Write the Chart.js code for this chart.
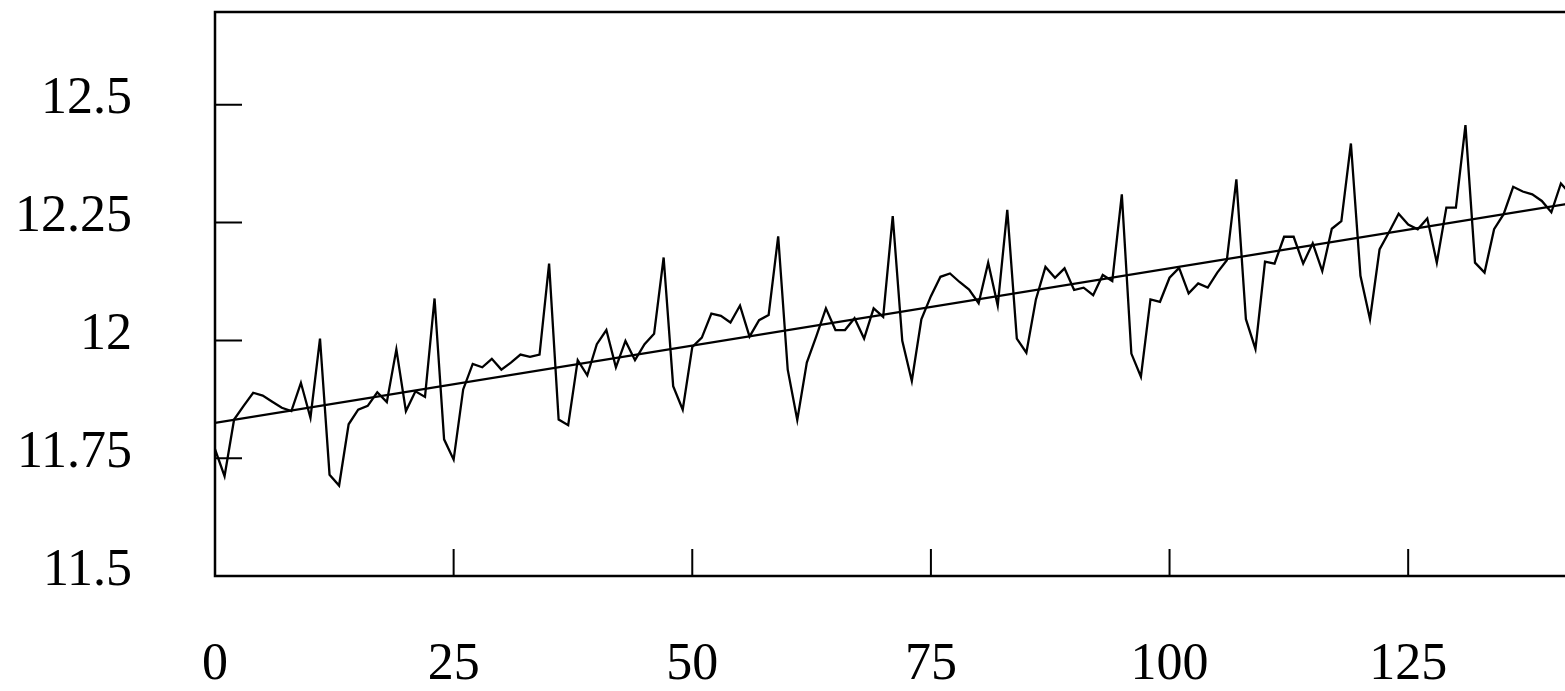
<!DOCTYPE html>
<html>
<head>
<meta charset="utf-8">
<script src="https://cdn.jsdelivr.net/npm/chart.js@4/dist/chart.umd.min.js"></script>
<style>
  html, body { margin: 0; padding: 0; background: #fff; overflow: hidden; }
  #wrap { width: 1565px; height: 691px; overflow: hidden; }
</style>
</head>
<body>
<div id="wrap"><canvas id="seriesChart" width="1620" height="691"></canvas></div>
<script>
// --- Data: ---
// one value per period, index 0 .. 142 (the rest runs off the right edge)
const seriesValues = [
  11.769, 11.712, 11.832, 11.861, 11.889, 11.883, 11.870, 11.857, 11.850, 11.910, 11.836, 12.004,
  11.715, 11.692, 11.822, 11.853, 11.861, 11.890, 11.869, 11.981, 11.850, 11.892, 11.880, 12.089,
  11.790, 11.747, 11.896, 11.950, 11.943, 11.961, 11.938, 11.953, 11.970, 11.965, 11.970, 12.163,
  11.832, 11.820, 11.958, 11.926, 11.992, 12.022, 11.943, 11.999, 11.958, 11.992, 12.014, 12.176,
  11.903, 11.853, 11.986, 12.006, 12.057, 12.052, 12.038, 12.074, 12.008, 12.043, 12.054, 12.221,
  11.938, 11.831, 11.953, 12.009, 12.068, 12.022, 12.022, 12.047, 12.004, 12.068, 12.050, 12.264,
  11.999, 11.914, 12.045, 12.094, 12.135, 12.142, 12.124, 12.108, 12.079, 12.165, 12.074, 12.277,
  12.004, 11.974, 12.087, 12.156, 12.133, 12.153, 12.107, 12.112, 12.096, 12.139, 12.126, 12.310,
  11.972, 11.923, 12.087, 12.082, 12.133, 12.154, 12.100, 12.121, 12.112, 12.144, 12.170, 12.342,
  12.045, 11.982, 12.167, 12.163, 12.220, 12.220, 12.163, 12.206, 12.147, 12.237, 12.253, 12.418,
  12.137, 12.045, 12.193, 12.230, 12.269, 12.246, 12.236, 12.259, 12.165, 12.282, 12.282, 12.457,
  12.165, 12.144, 12.236, 12.268, 12.326, 12.316, 12.310, 12.296, 12.272, 12.333, 12.310
];
// straight trend line, its two end points
const trendX = [0, 143];
const trendY = [11.825, 12.294];

const xTickValues = [0, 25, 50, 75, 100, 125];
const xTickLabels = ['0', '25', '50', '75', '100', '125'];
const yTickValues = [11.5, 11.75, 12, 12.25, 12.5];
const yTickLabels = ['11.5', '11.75', '12', '12.25', '12.5'];
const xMin = 0, xMax = 143;
const yMin = 11.5, yMax = 12.697;

// Box round the plot and the short inward tick marks.
const frameAndTicks = {
    id: 'frameAndTicks',
    afterDatasetsDraw(chart) {
        const { ctx, chartArea: a, scales: { x, y } } = chart;
        ctx.save();
        ctx.strokeStyle = '#000';
        ctx.lineWidth = 2.5;
        ctx.strokeRect(a.left, a.top, a.right - a.left, a.bottom - a.top);
        ctx.lineWidth = 2;
        ctx.beginPath();
        x.ticks.forEach(t => {
            const px = x.getPixelForValue(t.value);
            ctx.moveTo(px, a.bottom);
            ctx.lineTo(px, a.bottom - 27);
        });
        y.ticks.forEach(t => {
            const py = y.getPixelForValue(t.value);
            ctx.moveTo(a.left, py);
            ctx.lineTo(a.left + 27, py);
        });
        ctx.stroke();
        ctx.restore();
    }
};

const createSeriesChart = () => {
    const ctx = document.querySelector('#seriesChart').getContext('2d');
    const tickFont = { family: '"Liberation Serif", "Times New Roman", serif', size: 52 };
    new Chart(ctx, {
        type: 'line',
        data: {
            datasets: [
                {
                    label: 'Series',
                    data: seriesValues.map((v, i) => ({ x: i, y: v })),
                    borderColor: '#000',
                    borderWidth: 2.3,
                    pointRadius: 0,
                    tension: 0,
                    fill: false
                },
                {
                    label: 'Trend',
                    data: trendX.map((v, i) => ({ x: v, y: trendY[i] })),
                    borderColor: '#000',
                    borderWidth: 2.2,
                    pointRadius: 0,
                    tension: 0,
                    fill: false
                }
            ]
        },
        options: {
            responsive: false,
            animation: false,
            layout: { padding: { left: 0, top: 12, right: 40, bottom: 0 } },
            plugins: { legend: { display: false }, tooltip: { enabled: false } },
            scales: {
                x: {
                    type: 'linear',
                    min: xMin,
                    max: xMax,
                    grid: { display: false, drawTicks: false },
                    border: { display: false },
                    afterBuildTicks: axis => { axis.ticks = xTickValues.map(v => ({ value: v })); },
                    afterFit: axis => { axis.height = 115; axis.paddingLeft = 0; axis.paddingRight = 0; },
                    ticks: {
                        color: '#000',
                        font: tickFont,
                        padding: 58,
                        maxRotation: 0,
                        callback: (v, i) => xTickLabels[i]
                    }
                },
                y: {
                    min: yMin,
                    max: yMax,
                    grid: { display: false, drawTicks: false },
                    border: { display: false },
                    afterBuildTicks: axis => { axis.ticks = yTickValues.map(v => ({ value: v })); },
                    afterFit: axis => { axis.width = 215; axis.paddingTop = 0; axis.paddingBottom = 0; },
                    ticks: {
                        color: '#000',
                        font: tickFont,
                        padding: 83,
                        labelOffset: -5,
                        callback: (v, i) => yTickLabels[i]
                    }
                }
            }
        },
        plugins: [frameAndTicks]
    });
};

createSeriesChart();
</script>
</body>
</html>
